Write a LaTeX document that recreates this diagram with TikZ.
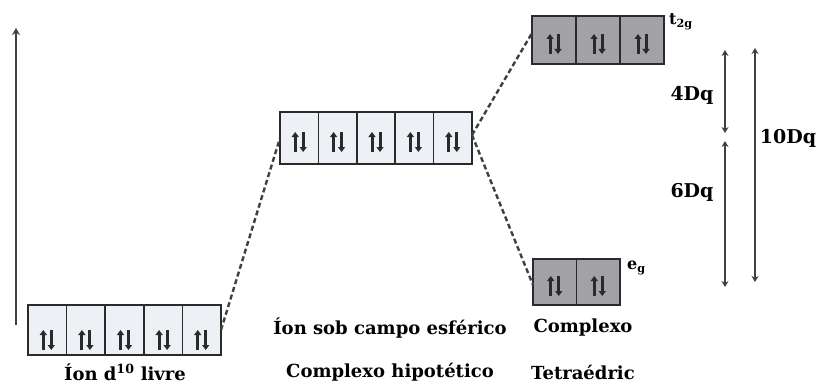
\documentclass[tikz,border=0pt]{standalone}
\usepackage{fontspec}
\setmainfont{DejaVu Serif}
\usetikzlibrary{arrows.meta,calc}
\definecolor{lightcell}{HTML}{EDF0F4}
\definecolor{darkcell}{HTML}{A2A2A6}
\definecolor{edge}{HTML}{2A2A2A}
\definecolor{arrowgray}{HTML}{404040}
\tikzset{
  cellbase/.style={draw=edge, line width=1.6pt, minimum height=50pt, inner sep=0pt, outer sep=0pt},
  spins/.style={path picture={
      \draw[line width=3pt, -{Triangle[width=7pt,length=5pt]}]
        ([xshift=-4pt,yshift=-#1-10pt]path picture bounding box.center) -- ++(0,20pt);
      \draw[line width=3pt, -{Triangle[width=7pt,length=5pt]}]
        ([xshift=4pt,yshift=-#1+10pt]path picture bounding box.center) -- ++(0,-20pt);
  }},
  lcell/.style={cellbase, fill=lightcell, minimum width=38.6pt, spins=#1},
  dcell/.style={cellbase, fill=darkcell, minimum width=44pt, minimum height=48pt, spins=#1},
  conn/.style={draw=arrowgray, line width=2.4pt, dash pattern=on 5pt off 3pt},
  dimarrow/.style={draw=arrowgray, line width=2.2pt, {Stealth[width=7pt,length=6pt]}-{Stealth[width=7pt,length=6pt]}},
  lbl/.style={font=\bfseries\fontsize{18}{21}\selectfont, inner sep=0pt},
  dqlbl/.style={font=\bfseries\fontsize{19}{22}\selectfont, inner sep=0pt},
  sublbl/.style={font=\bfseries\fontsize{16}{19}\selectfont, inner sep=0pt},
}
\begin{document}
\begin{tikzpicture}[x=1pt,y=-1pt]
\useasboundingbox[fill=white] (0,0) rectangle (821,385);
% free ion vertical arrow
\coordinate (la) at (16,325);
\coordinate (lb) at (16,28);
\draw[draw=arrowgray, line width=2.2pt, -{Stealth[width=8pt,length=7pt]}] (la) -- (lb);
% bottom-left box
\foreach \i in {1,...,5}
  \node[lcell=10pt] (a\i) at ({28+38.6*(\i-0.5)},330) {};
% middle box
\foreach \i in {1,...,5}
  \node[lcell=4pt, minimum height=52pt, minimum width=38.4pt] (b\i) at ({280+38.4*(\i-0.5)},138) {};
% t2g box
\foreach \i in {1,...,3}
  \node[dcell=4pt] (t\i) at ({532+44*(\i-0.5)},40) {};
% eg box
\foreach \i in {1,2}
  \node[dcell=4pt, minimum width=43.5pt, minimum height=46pt] (e\i) at ({533+43.5*(\i-0.5)},282) {};
% dashed connectors
\draw[conn] (a5.east) -- (b1.west);
\draw[conn] ([yshift=3pt]b5.east) -- ([yshift=7pt]t1.west);
\draw[conn] ([yshift=3pt]b5.east) -- ([yshift=-3pt]e1.west);
% orbital labels
\node[sublbl, anchor=west] (tl) at (669,22) {t$_{\mathbf{2g}}$};
\node[sublbl, anchor=west] (el) at (627,268) {e$_{\mathbf{g}}$};
% splitting arrows
\coordinate (i1) at (725,50);
\coordinate (i2) at (725,133);
\coordinate (i3) at (725,141);
\coordinate (i4) at (725,287);
\coordinate (o1) at (755,48);
\coordinate (o2) at (755,282);
\draw[dimarrow] (i1) -- (i2);
\draw[dimarrow] (i3) -- (i4);
\draw[dimarrow] (o1) -- (o2);
\node[dqlbl] (d4) at (692,95) {4Dq};
\node[dqlbl] (d6) at (692,192) {6Dq};
\node[dqlbl] (d10) at (788,138) {10Dq};
% bottom labels
\node[lbl] (n1) at (125,372) {Íon d$^{\mathbf{10}}$ livre};
\node[lbl] (n2) at (390,328) {Íon sob campo esférico};
\node[lbl] (n3) at (390,372) {Complexo hipotético};
\node[lbl] (n4) at (583,328) {Complexo};
\node[lbl] (n5) at (583,372) {Tetraédric};
\end{tikzpicture}
\end{document}
